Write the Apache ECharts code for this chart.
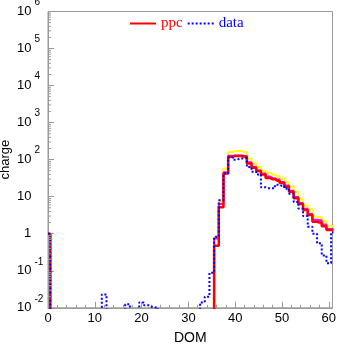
<!DOCTYPE html>
<html><head><meta charset="utf-8">
<script src="https://cdn.jsdelivr.net/npm/echarts@6/dist/echarts.min.js"></script>
<style>html,body{margin:0;padding:0;background:#fff}#c{width:337px;height:344px}</style>
</head><body><div id="c"></div>
<script>
// bins (DOM) of the main region
const domMain = [33,34,35,36,37,38,39,40,41,42,43,44,45,46,47,48,49,50,51,52,53,54,55,56,57,58,59,60,61];
// ppc (red), bins 36..61
const ppcMain = [0.47,5.2,42,120,126,126,120,79,60,49,40,32,29.5,27,23.5,18.6,13.5,9.1,6.3,4.4,3.2,2.1,2.0,1.58,1.26,1.26];
// ppc variants (yellow, magenta), bins 36..61
const ppcHigh = [0.83,7.2,58,162,170,170,162,107,79,63,50,44,40,35.5,31,25,19,13.5,8.9,5.9,4.6,2.9,2.8,2.2,1.6,1.6];
const ppcMid  = [0.74,6.3,46,128,130,130,126,85,63,51,42,35,31.6,29,25,20,14.5,9.8,6.8,4.7,3.4,2.4,2.3,1.78,1.35,1.35];
// data (blue), bins 33..61
const dataMain = [0.014,0.02,0.088,0.83,8,42,115,100,108,110,63,47,40,18,17,17,21,19.5,16.5,12,7.2,4.8,3.0,1.55,1.0,0.55,0.26,0.16,1.1];
// isolated low bins
const ppcLowDom = [0];
const ppcLowVal = [1];
const dataLowDom = [0,12,17,20,21,22,23];
const dataLowVal = [1,0.023,0.0125,0.014,0.0117,0.0107,0.0102];
const xTicks = [0,10,20,30,40,50,60];
const EMPTY = 1e-4; // empty bin (below axis)

function buildHist(lowDom, lowVal, mainStart, mainVals){
  const m = {};
  lowDom.forEach((d,i)=>{m[d]=lowVal[i];});
  mainVals.forEach((v,i)=>{m[mainStart+i]=v;});
  const out=[];
  for(let d=0; d<=61; d++){ out.push([d, m[d]!==undefined ? m[d] : EMPTY]); }
  return out;
}
const redData = buildHist(ppcLowDom, ppcLowVal, 36, ppcMain);
const yelData = buildHist([], [], 36, ppcHigh).filter(p=>p[0]>=34);
const magData = buildHist([], [], 36, ppcMid).filter(p=>p[0]>=34);
const blueData = buildHist(dataLowDom, dataLowVal, 33, dataMain);

// minor tick positions of log axis
const minorVals=[];
for(let k=-2;k<6;k++){ for(let m=2;m<=9;m++){ minorVals.push([0, m*Math.pow(10,k)]); } }

const dotIcon = 'path://M0 0h2v2h-2zM4 0h2v2h-2zM8 0h2v2h-2zM12 0h2v2h-2zM16 0h2v2h-2zM20 0h2v2h-2zM24 0h2v2h-2z';

const chart = echarts.init(document.getElementById('c'), null, {renderer:'canvas'});
const lineBase = {type:'line', step:'middle', symbol:'none', showSymbol:false, clip:true, animation:false};
chart.setOption({
  animation:false,
  grid:{left:48, right:4.5, top:11.5, bottom:36.2, show:true, borderColor:'#999', borderWidth:1,
        backgroundColor:'transparent', containLabel:false, outerBoundsMode:'none'},
  legend:{
    left:130, top:16, itemWidth:26, itemHeight:2, itemGap:5, padding:0,
    textStyle:{fontFamily:'Liberation Serif', fontSize:15},
    data:[{name:'ppc', icon:'rect', textStyle:{color:'#ff0000'}},
          {name:'data', icon:dotIcon, textStyle:{color:'#0000ff'}}]
  },
  xAxis:{
    type:'value', min:0, max:60.8, interval:10,
    name:'DOM', nameLocation:'middle', nameGap:23, nameMoveOverlap:false,
    nameTextStyle:{fontFamily:'Liberation Sans', fontSize:14, color:'#000', verticalAlign:'top'},
    axisLine:{show:true, lineStyle:{color:'#999'}},
    axisTick:{show:true, inside:true, length:6, lineStyle:{color:'#999'}},
    minorTick:{show:true, splitNumber:5, length:3, lineStyle:{color:'#999'}},
    splitLine:{show:false}, minorSplitLine:{show:false},
    axisLabel:{margin:4, fontFamily:'Liberation Sans', fontSize:13, color:'#000',
      formatter:v=> xTicks.indexOf(v)>=0 ? String(v) : ''}
  },
  yAxis:{
    type:'log', logBase:10, min:0.01, max:1e6, splitNumber:8,
    name:'charge', nameLocation:'middle', nameGap:36, nameRotate:90, nameMoveOverlap:false,
    nameTextStyle:{fontFamily:'Liberation Sans', fontSize:13, color:'#000'},
    axisLine:{show:true, lineStyle:{color:'#999'}},
    axisTick:{show:true, inside:true, length:6, lineStyle:{color:'#999'}},
    splitLine:{show:false},
    axisLabel:{margin:31, align:'left', color:'#000',
      formatter:function(v){
        const e = Math.round(Math.log10(v));
        if(e===0) return '{sp|}{b|1}';
        if(e===1) return '{b|10}';
        return '{b|10}{e|'+e+'}';
      },
      rich:{
        b:{fontFamily:'Liberation Sans', fontSize:13, color:'#000'},
        sp:{width:7},
        e:{fontFamily:'Liberation Sans', fontSize:10, color:'#000', padding:[0,0,18,3]}
      }
    }
  },
  series:[
    Object.assign({}, lineBase, {name:'ppc_hi', data:yelData, lineStyle:{color:'#ffff00', width:2}, itemStyle:{color:'#ffff00'}, z:2}),
    Object.assign({}, lineBase, {name:'ppc_mid', data:magData, lineStyle:{color:'#ff00ff', width:2}, itemStyle:{color:'#ff00ff'}, z:3}),
    Object.assign({}, lineBase, {name:'ppc', data:redData, lineStyle:{color:'#ff0000', width:2.5}, itemStyle:{color:'#ff0000'}, z:4}),
    Object.assign({}, lineBase, {name:'data', data:blueData, lineStyle:{color:'#0000ff', width:2, type:[2,2]}, itemStyle:{color:'#0000ff'}, z:5}),
    {type:'custom', name:'minor', silent:true, clip:false, data:minorVals, z:6,
      renderItem:function(params, api){
        const p = api.coord([0, api.value(1)]);
        return {type:'line', shape:{x1:p[0], y1:p[1], x2:p[0]+3, y2:p[1]}, style:{stroke:'#999', lineWidth:1}};
      }
    }
  ]
});
</script></body></html>
